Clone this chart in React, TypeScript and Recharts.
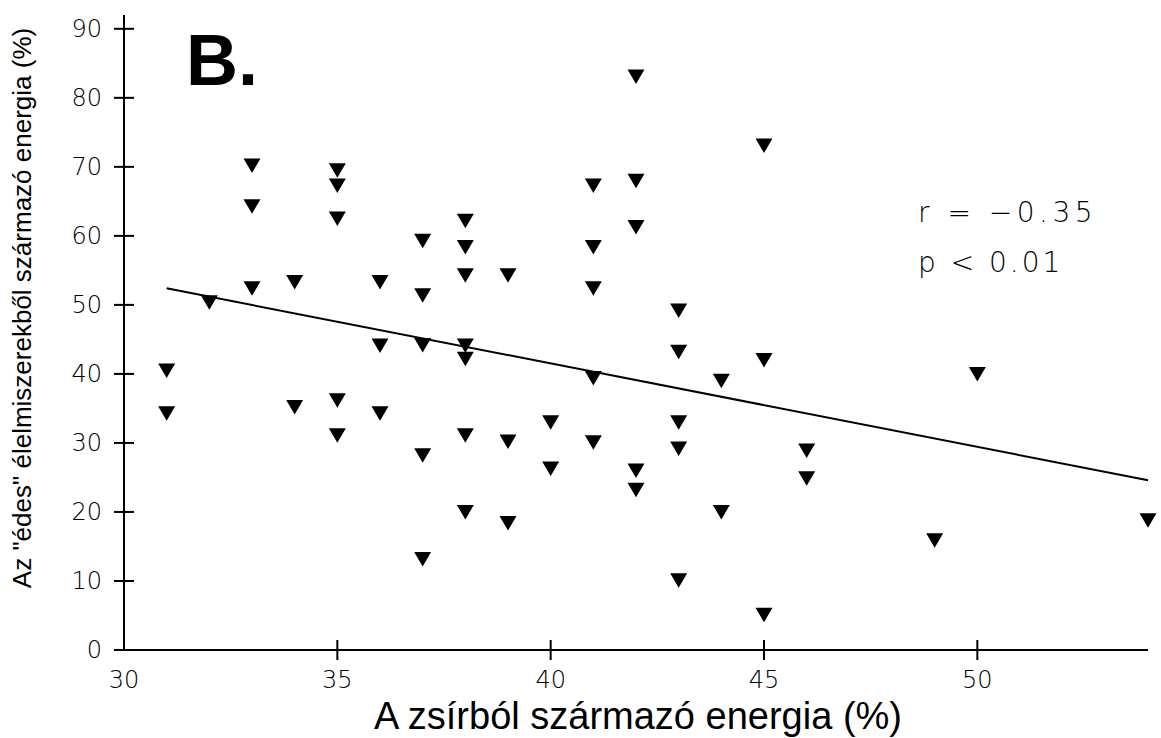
import React from 'react';
import { ScatterChart, Scatter, XAxis, YAxis, ReferenceLine, Customized } from 'recharts';

// fat energy (%) of each subject, read column by column
const fatEnergy = [
  31, 31,
  32,
  33, 33, 33,
  34, 34,
  35, 35, 35, 35, 35,
  36, 36, 36,
  37, 37, 37, 37, 37,
  38, 38, 38, 38, 38, 38, 38,
  39, 39, 39,
  40, 40,
  41, 41, 41, 41, 41,
  42, 42, 42, 42, 42,
  43, 43, 43, 43, 43,
  44, 44,
  45, 45, 45,
  46, 46,
  49,
  50,
  54,
];

// energy from "sweet" foods (%), same order as fatEnergy
const sweetEnergy = [
  40.5, 34.3,
  50.4,
  70.2, 64.3, 52.4,
  53.3, 35.2,
  69.5, 67.3, 62.5, 36.2, 31.1,
  53.3, 44.1, 34.3,
  59.3, 51.4, 44.2, 28.2, 13.2,
  62.2, 58.4, 54.3, 44.1, 42.2, 31.1, 20.0,
  54.3, 30.2, 18.4,
  33.0, 26.3,
  67.3, 58.4, 52.4, 39.4, 30.1,
  83.1, 68.0, 61.3, 26.0, 23.2,
  49.2, 43.2, 33.0, 29.2, 10.1,
  39.0, 20.0,
  73.1, 42.0, 5.1,
  28.9, 24.9,
  15.9,
  40.0,
  18.8,
];

// regression line end points
const trendX = [31, 54];
const trendY = [52.4, 24.6];

const xTicks = [30, 35, 40, 45, 50];
const yTicks = [0, 10, 20, 30, 40, 50, 60, 70, 80, 90];

const stats = ['r = \u22120.35', 'p < 0.01'];

const points = fatEnergy.map((x, i) => ({ x, y: sweetEnergy[i] }));

const tickFont = '"DejaVu Sans", sans-serif';
const titleFont = '"Liberation Sans", Arial, sans-serif';

const DownTriangle = (props: any) => {
  const { cx, cy } = props;
  return (
    <polygon
      points={`${cx - 8.5},${cy - 7} ${cx + 8.5},${cy - 7} ${cx},${cy + 7.5}`}
      fill="#000"
    />
  );
};

const YTick = (props: any) => {
  const { x, y, payload } = props;
  const ax = x + 10;
  return (
    <g>
      <line x1={ax - 10} x2={ax + 10} y1={y} y2={y} stroke="#000" strokeWidth={2} />
      <text
        x={ax - 22}
        y={y}
        textAnchor="end"
        dominantBaseline="central"
        fontFamily={tickFont}
        fontWeight={200}
        fontSize={24}
        fill="#000"
      >
        {payload.value}
      </text>
    </g>
  );
};

const XTick = (props: any) => {
  const { x, y, payload } = props;
  const ay = y - 10;
  return (
    <g>
      {payload.value !== 30 && (
        <line x1={x} x2={x} y1={ay - 10} y2={ay + 10} stroke="#000" strokeWidth={2} />
      )}
      <text
        x={x}
        y={ay + 30}
        textAnchor="middle"
        dominantBaseline="central"
        fontFamily={tickFont}
        fontWeight={200}
        fontSize={24}
        fill="#000"
      >
        {payload.value}
      </text>
    </g>
  );
};

const Annotations = () => (
  <g fill="#000">
    <text
      x={22}
      y={308}
      transform="rotate(-90 22 308)"
      textAnchor="middle"
      dominantBaseline="central"
      fontFamily={titleFont}
      fontSize={26}
    >
      Az "édes" élelmiszerekből származó energia (%)
    </text>
    <text x={638} y={729} textAnchor="middle" fontFamily={titleFont} fontSize={38}>
      A zsírból származó energia (%)
    </text>
    <text x={186} y={85} fontFamily={titleFont} fontWeight="bold" fontSize={72}>
      B.
    </text>
    {stats.map((s, i) => (
      <text
        key={s}
        x={918}
        y={222 + i * 50}
        fontFamily={tickFont}
        fontWeight={200}
        fontSize={28}
        letterSpacing={i === 0 ? 4.5 : 3}
      >
        {s}
      </text>
    ))}
  </g>
);

export default function App() {
  return (
    <div style={{ position: 'absolute', left: 0, top: 0, background: '#fff' }}>
      <ScatterChart
        width={1161}
        height={738}
        margin={{ top: 15, right: 13, left: 0, bottom: 0 }}
      >
        <XAxis
          type="number"
          dataKey="x"
          domain={[30, 54]}
          ticks={xTicks}
          height={88}
          axisLine={{ stroke: '#000', strokeWidth: 2 }}
          tickLine={false}
          tickSize={10}
          tickMargin={0}
          tick={<XTick />}
        />
        <YAxis
          type="number"
          dataKey="y"
          domain={[0, 92]}
          ticks={yTicks}
          width={124}
          axisLine={{ stroke: '#000', strokeWidth: 2 }}
          tickLine={false}
          tickSize={10}
          tickMargin={0}
          tick={<YTick />}
        />
        <ReferenceLine
          segment={[
            { x: trendX[0], y: trendY[0] },
            { x: trendX[1], y: trendY[1] },
          ]}
          stroke="#000"
          strokeWidth={2}
        />
        <Scatter data={points} shape={<DownTriangle />} isAnimationActive={false} />
        <Customized component={Annotations} />
      </ScatterChart>
    </div>
  );
}
